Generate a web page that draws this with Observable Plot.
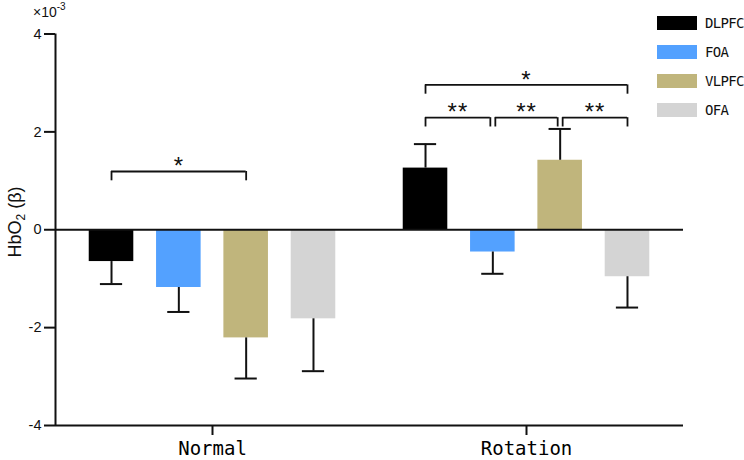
<!DOCTYPE html>
<html>
<head>
<meta charset="utf-8">
<script src="https://cdn.jsdelivr.net/npm/d3@7"></script>
<script src="https://cdn.jsdelivr.net/npm/@observablehq/plot@0.6"></script>
<style>
  html, body { margin: 0; padding: 0; background: #fff; }
  #wrap { position: relative; width: 744px; height: 460px; }
  #legend { position: absolute; left: 657px; top: 16px; font-family: "DejaVu Sans Mono", monospace; font-size: 14px; color: #111; }
  .item { position: absolute; left: 0; height: 14px; width: 90px; }
  .sw { position: absolute; left: 0; top: 0; width: 40px; height: 14px; }
  .lab { position: absolute; left: 48px; top: -1px; line-height: 16px; letter-spacing: -0.7px; white-space: nowrap; }
  #exp { position: absolute; left: 33px; top: 2px; font-family: "Liberation Sans", Arial, sans-serif; font-size: 14px; color: #111; }
  #exp sup { font-size: 10px; position: relative; top: -1px; }
  .stars { letter-spacing: 1px; }
</style>
</head>
<body>
<div id="wrap"></div>
<script>
// ---- data ----
const groups = ["Normal", "Rotation"];
const regions = ["DLPFC", "FOA", "VLPFC", "OFA"];
const colors = ["#000000", "#53A1FF", "#C0B57C", "#D4D4D4"];
const normalMean = [-0.65, -1.18, -2.21, -1.82];
const normalErr = [0.46, 0.50, 0.83, 1.07];
const rotationMean = [1.26, -0.455, 1.42, -0.96];
const rotationErr = [0.49, 0.445, 0.64, 0.63];
const yTicks = [-4, -2, 0, 2, 4];

const bracketGroup = ["Normal", "Rotation", "Rotation", "Rotation", "Rotation"];
const bracketFrom = ["DLPFC", "DLPFC", "DLPFC", "FOA", "VLPFC"];
const bracketTo = ["VLPFC", "OFA", "FOA", "VLPFC", "OFA"];
const bracketY = [1.19, 2.96, 2.29, 2.29, 2.29];
const bracketLabel = ["*", "*", "**", "**", "**"];

// ---- tables ----
const means = [normalMean, rotationMean];
const errs = [normalErr, rotationErr];
const rows = groups.flatMap((g, gi) => regions.map((r, i) => ({
  group: g, region: r, i, mean: means[gi][i], err: errs[gi][i],
  end: means[gi][i] + Math.sign(means[gi][i]) * errs[gi][i]
})));

const GAP = 0.037;
const brackets = bracketGroup.map((g, k) => {
  const a = regions.indexOf(bracketFrom[k]);
  const b = regions.indexOf(bracketTo[k]);
  const same = bracketGroup.map((gg, j) => j).filter(j => j !== k && bracketGroup[j] === g && bracketY[j] === bracketY[k]);
  const shiftL = same.some(j => bracketTo[j] === bracketFrom[k]) ? GAP : 0;
  const shiftR = same.some(j => bracketFrom[j] === bracketTo[k]) ? -GAP : 0;
  return {group: g, x1: a + shiftL, x2: b + shiftR, y: bracketY[k], label: bracketLabel[k]};
});

const HALF = 0.331, CAP = 0.165, LEG = 0.19;
const xDomain = [-0.832, 3.832];
const yDomain = [-4, 4];

const chart = Plot.plot({
  width: 744,
  height: 460,
  marginLeft: 54,
  marginRight: 61,
  marginTop: 33.5,
  marginBottom: 35,
  style: {fontFamily: "Liberation Sans, Arial, sans-serif", color: "#111"},
  fx: {domain: groups, padding: 0},
  x: {domain: xDomain, axis: null},
  y: {domain: yDomain, axis: null},
  color: {domain: regions, range: colors},
  marks: [
    Plot.rectY(rows, {fx: "group", x1: d => d.i - HALF, x2: d => d.i + HALF, y1: 0, y2: "mean", fill: "region"}),
    Plot.ruleX(rows, {fx: "group", x: "i", y1: "mean", y2: "end", stroke: "#111", strokeWidth: 2}),
    Plot.ruleY(rows, {fx: "group", x1: d => d.i - CAP, x2: d => d.i + CAP, y: "end", stroke: "#111", strokeWidth: 2}),
    Plot.ruleY([0, yDomain[0]], {stroke: "#111", strokeWidth: 2}),
    Plot.ruleX([groups[0]], {fx: d => d, x: () => xDomain[0], y1: yDomain[0], y2: yDomain[1], stroke: "#111", strokeWidth: 2}),
    // brackets
    Plot.ruleY(brackets, {fx: "group", x1: "x1", x2: "x2", y: "y", stroke: "#111", strokeWidth: 1.8}),
    Plot.ruleX(brackets, {fx: "group", x: "x1", y1: d => d.y - LEG, y2: "y", stroke: "#111", strokeWidth: 1.8}),
    Plot.ruleX(brackets, {fx: "group", x: "x2", y1: d => d.y - LEG, y2: "y", stroke: "#111", strokeWidth: 1.8}),
    Plot.text(brackets, {fx: "group", x: d => (d.x1 + d.x2) / 2, y: "y", text: "label", dy: -5, fontSize: 24, fill: "#111", className: "stars"}),
    Plot.axisY({ticks: yTicks, tickSize: 11, tickPadding: 3, fontSize: 14.5, label: null, strokeWidth: 2, tickFormat: d => String(d)}),
    Plot.axisFx({anchor: "bottom", tickSize: 10, tickPadding: 6, fontSize: 19, fontFamily: "DejaVu Sans Mono, monospace", fill: "#000", label: null, strokeWidth: 2})
  ]
});

const wrap = document.getElementById("wrap");
wrap.appendChild(chart);

// y axis title
const svg = d3.select(chart);
const t = svg.append("text")
  .attr("transform", "translate(21,222) rotate(-90)")
  .attr("text-anchor", "middle")
  .attr("font-family", "Liberation Sans, Arial, sans-serif")
  .attr("font-size", 18)
  .attr("fill", "#111");
t.append("tspan").text("HbO");
t.append("tspan").attr("font-size", 12).attr("dy", 4).text("2");
t.append("tspan").attr("dy", -4).text(" (β)");

// exponent
const exp = document.createElement("div");
exp.id = "exp";
exp.innerHTML = "×10<sup>-3</sup>";
wrap.appendChild(exp);

// legend
const lg = document.createElement("div");
lg.id = "legend";
regions.forEach((r, i) => {
  const it = document.createElement("div");
  it.className = "item";
  it.style.top = (i * 29) + "px";
  const sw = document.createElement("div");
  sw.className = "sw";
  sw.style.background = colors[i];
  const lb = document.createElement("div");
  lb.className = "lab";
  lb.textContent = r;
  it.appendChild(sw); it.appendChild(lb);
  lg.appendChild(it);
});
wrap.appendChild(lg);
</script>
</body>
</html>
